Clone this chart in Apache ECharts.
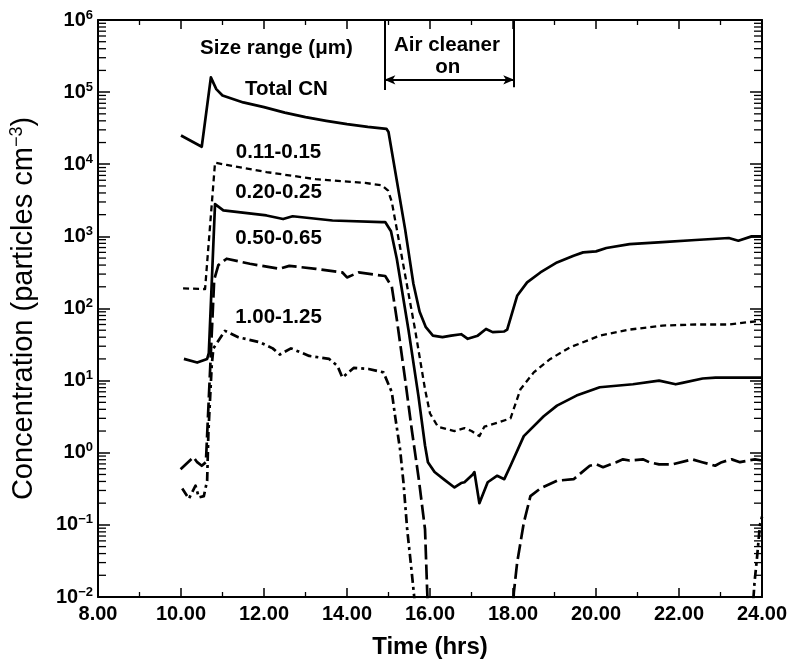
<!DOCTYPE html>
<html>
<head>
<meta charset="utf-8">
<script src="https://cdn.jsdelivr.net/npm/echarts@6/dist/echarts.min.js"></script>
<style>
html,body{margin:0;padding:0;background:#fff;}
#chart{width:794px;height:664px;}
</style>
</head>
<body>
<div id="chart"></div>
<script>
// ---------- data (time in hrs, concentration in particles cm^-3) ----------
var xTicks = [8, 24, 2];          // min, max, step of the time axis
var yRange = [0.01, 1e6];         // log axis range

var totalCN = [
  [10.0,25000],[10.5,17500],[10.72,160000],[10.85,110000],[11.0,90000],[11.5,72000],
  [12.0,62000],[12.5,52000],[13.0,45000],[13.5,40000],[14.0,36000],[14.5,33000],
  [14.95,31000],[15.0,28000],[15.4,1260],[15.6,220],[15.75,90],[15.9,55],[16.07,42],
  [16.3,40],[16.51,42],[16.75,44],[16.91,38],[17.15,42],[17.35,52],[17.51,47],
  [17.79,48],[17.86,51],[18.1,150],[18.34,230],[18.66,316],[19.06,436],[19.46,540],
  [19.69,600],[20.0,620],[20.25,690],[20.81,780],[21.6,830],[22.4,890],[23.2,950],
  [23.43,870],[23.75,1000],[24.0,1000]
];

var size011 = [
  [10.05,190],[10.58,186],[10.6,186],[10.82,10500],[11.1,9800],[12.06,7800],[13.25,6200],
  [14.44,5500],[14.84,5100],[14.99,4300],[15.08,3000],[15.2,1260],[15.64,51],[15.88,7.6],
  [16.0,3.5],[16.19,2.3],[16.59,2.0],[16.83,2.2],[17.0,2.0],[17.19,1.7],[17.31,2.3],
  [17.62,2.6],[17.94,3.0],[18.18,7.6],[18.5,13],[18.9,20],[19.38,29],[20.09,42],
  [20.81,51],[21.6,58],[22.4,60],[23.2,60],[24.0,68]
];

var size020 = [
  [10.07,20],[10.39,17.8],[10.63,20],[10.67,24],[10.82,2800],[11.02,2290],[12.06,1950],
  [12.46,1740],[12.69,1900],[13.65,1660],[14.84,1580],[14.92,1580],[15.06,1175],
  [15.2,490],[15.48,51],[15.72,6.2],[15.88,1.26],[15.95,0.74],[16.11,0.54],[16.35,0.42],
  [16.59,0.33],[16.75,0.38],[16.83,0.39],[17.03,0.5],[17.07,0.54],[17.19,0.2],
  [17.39,0.39],[17.62,0.48],[17.79,0.43],[17.94,0.66],[18.26,1.7],[18.74,3.2],
  [19.06,4.5],[19.53,6.2],[20.09,8.1],[20.89,8.9],[21.52,10],[21.92,8.9],[22.08,9.3],
  [22.57,10.7],[22.88,11],[23.83,11],[24.0,11]
];

var size050 = [
  [9.99,0.59],[10.3,0.87],[10.39,0.74],[10.5,0.66],[10.6,0.74],[10.8,250],[10.9,400],
  [11.1,490],[11.66,417],[12.37,355],[12.61,390],[13.25,355],[13.89,316],[14.0,270],
  [14.28,316],[14.92,282],[15.08,200],[15.2,71],[15.4,10.5],[15.56,2.1],[15.73,0.43],
  [15.88,0.087],[15.93,0.013],[15.96,0.005],[16.0,'-'],
  [17.99,0.005],[18.02,0.0115],[18.1,0.03],[18.26,0.107],[18.42,0.25],[18.66,0.32],
  [19.06,0.41],[19.46,0.43],[19.85,0.66],[20.01,0.69],[20.17,0.63],[20.49,0.74],
  [20.65,0.81],[20.81,0.78],[21.13,0.81],[21.28,0.74],[21.52,0.69],[21.84,0.69],
  [22.32,0.81],[22.56,0.74],[22.87,0.66],[23.03,0.74],[23.27,0.81],[23.47,0.74],
  [23.67,0.78],[23.83,0.81],[24.0,0.78]
];

var size100 = [
  [10.03,0.32],[10.19,0.23],[10.35,0.35],[10.43,0.24],[10.55,0.25],[10.63,0.41],
  [10.66,1.9],[10.74,16],[10.78,28],[11.06,49],[11.38,40],[11.9,34],[12.21,28],
  [12.38,23],[12.65,28],[13.09,22],[13.57,20],[13.77,16],[13.89,11],[14.16,15],
  [14.52,14.5],[14.88,13],[15.08,6.9],[15.16,3.2],[15.28,1.1],[15.36,0.39],
  [15.45,0.087],[15.55,0.025],[15.62,0.01],[15.66,0.005],[15.7,'-'],
  [23.76,0.005],[23.82,0.016],[23.88,0.035],[23.95,0.1],[24.0,0.13]
];

// annotation texts: [time, concentration, text]
var annotations = [
  [12.30, 4.0e5, 'Size range (\u03bcm)'],
  [12.54, 1.1e5, 'Total CN'],
  [12.35, 1.48e4, '0.11-0.15'],
  [12.35, 4.1e3, '0.20-0.25'],
  [12.35, 950, '0.50-0.65'],
  [12.35, 75, '1.00-1.25'],
  [16.41, 4.4e5, 'Air cleaner'],
  [16.43, 2.2e5, 'on']
];
// air cleaner period bracket: [start, end] hrs and levels
var cleanerPeriod = [14.9, 18.03];
var cleanerArrowLevel = 1.48e5;
var cleanerBarEnds = [1.07e5, 1.17e5];

// ---------- chart ----------
var FONT = '"Liberation Sans", Arial, Helvetica, sans-serif';
var minorVals = [];
for (var e = -2; e < 6; e++) {
  for (var m = 2; m <= 9; m++) minorVals.push([8, m * Math.pow(10, e)]);
}
var supMap = function (n) { return n < 0 ? '\u2212' + (-n) : String(n); };

var chart = echarts.init(document.getElementById('chart'), null, {renderer: 'canvas'});

function lineSeries(name, data, type, width, dash) {
  return {
    name: name, type: 'line', data: data, showSymbol: false, symbol: 'none',
    connectNulls: false, clip: true, animation: false, z: 3,
    lineStyle: {color: '#000', width: width, type: dash || type, cap: 'butt', join: 'round'}
  };
}

var xAxisCommon = {
  type: 'value', min: xTicks[0], max: xTicks[1], interval: xTicks[2],
  axisLine: {show: true, onZero: false, lineStyle: {color: '#000', width: 2}},
  axisTick: {show: true, inside: true, length: 9, lineStyle: {color: '#000', width: 1.5}},
  minorTick: {show: true, splitNumber: 2, length: 5, lineStyle: {color: '#000', width: 1.3}},
  splitLine: {show: false}
};
var yAxisCommon = {
  type: 'log', logBase: 10, min: yRange[0], max: yRange[1], splitNumber: 8,
  axisLine: {show: true, onZero: false, lineStyle: {color: '#000', width: 2}},
  axisTick: {show: true, inside: true, length: 12, lineStyle: {color: '#000', width: 1.5}},
  splitLine: {show: false}
};

var option = {
  backgroundColor: '#fff',
  animation: false,
  grid: {left: 92, right: 32, top: 20, bottom: 66},
  xAxis: [
    Object.assign({}, xAxisCommon, {
      position: 'bottom',
      name: 'Time (hrs)', nameLocation: 'middle', nameGap: 38,
      nameTextStyle: {fontFamily: FONT, fontSize: 24, fontWeight: 'bold', color: '#000'},
      axisLabel: {show: true, margin: 7, color: '#000', fontFamily: FONT, fontSize: 20, fontWeight: 'bold',
        formatter: function (v) { return v.toFixed(2); }}
    }),
    Object.assign({}, xAxisCommon, {position: 'top', axisLabel: {show: false}})
  ],
  yAxis: [
    Object.assign({}, yAxisCommon, {
      position: 'left',
      name: 'Concentration (particles cm{s|\u22123})', nameLocation: 'middle', nameGap: 58, nameRotate: 90,
      nameTextStyle: {fontFamily: FONT, fontSize: 29, color: '#000',
        rich: {s: {fontFamily: FONT, fontSize: 18, color: '#000', verticalAlign: 'top', padding: [0, 0, 14, 0]}}},
      axisLabel: {show: true, margin: 5, color: '#000',
        formatter: function (v) {
          var n = Math.round(Math.log(v) / Math.LN10);
          return '{b|10}{s|' + supMap(n) + '}';
        },
        rich: {
          b: {fontFamily: FONT, fontSize: 20, fontWeight: 'bold', color: '#000'},
          s: {fontFamily: FONT, fontSize: 13, fontWeight: 'bold', color: '#000', verticalAlign: 'top', padding: [0, 0, 10, 0]}
        }}
    }),
    Object.assign({}, yAxisCommon, {position: 'right', axisLabel: {show: false}})
  ],
  series: [
    lineSeries('Total CN', totalCN, 'solid', 2.7),
    lineSeries('0.11-0.15', size011, 'dashed', 2.3, [6, 4]),
    lineSeries('0.20-0.25', size020, 'solid', 2.7),
    lineSeries('0.50-0.65', size050, 'dashed', 2.7, [15, 5]),
    lineSeries('1.00-1.25', size100, 'dashed', 2.7, [9, 4, 3, 4]),
    {
      name: 'minor ticks', type: 'custom', data: minorVals, silent: true, z: 2, clip: false,
      renderItem: function (params, api) {
        var v = api.value(1);
        var a = api.coord([xTicks[0], v]);
        var b = api.coord([xTicks[1], v]);
        var st = {stroke: '#000', lineWidth: 1.3};
        return {type: 'group', children: [
          {type: 'line', shape: {x1: a[0], y1: a[1], x2: a[0] + 8, y2: a[1]}, style: st},
          {type: 'line', shape: {x1: b[0] - 8, y1: b[1], x2: b[0], y2: b[1]}, style: st}
        ]};
      }
    },
    {
      name: 'annotations', type: 'scatter', data: annotations, symbolSize: 1, z: 5, silent: true,
      itemStyle: {color: '#fff', opacity: 0},
      label: {show: true, position: 'inside', color: '#000', opacity: 1, fontFamily: FONT, fontSize: 20.5,
        fontWeight: 'bold', textBorderWidth: 0, textBorderColor: 'transparent',
        formatter: function (p) { return p.data[2]; }},
      emphasis: {disabled: true},
      markLine: {
        silent: true, symbol: ['none', 'none'], animation: false,
        label: {show: false},
        lineStyle: {color: '#000', width: 2, type: 'solid', opacity: 1},
        data: [
          [{coord: [cleanerPeriod[0], yRange[1]]}, {coord: [cleanerPeriod[0], cleanerBarEnds[0]]}],
          [{coord: [cleanerPeriod[1], yRange[1]]}, {coord: [cleanerPeriod[1], cleanerBarEnds[1]]}],
          [{coord: [cleanerPeriod[0], cleanerArrowLevel], symbol: 'arrow', symbolSize: [7, 11]},
           {coord: [cleanerPeriod[1], cleanerArrowLevel], symbol: 'arrow', symbolSize: [7, 11]}]
        ]
      }
    }
  ]
};
chart.setOption(option);
</script>
</body>
</html>
